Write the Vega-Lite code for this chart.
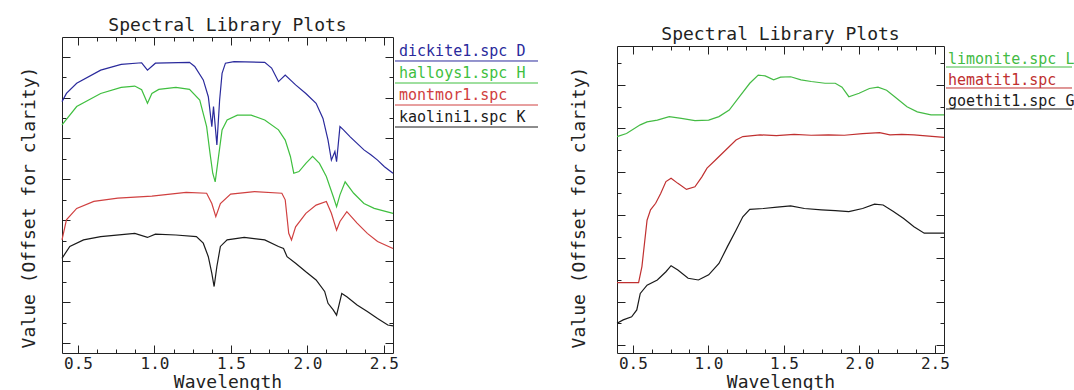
{
  "$schema": "https://vega.github.io/schema/vega-lite/v6.json",
  "background": "white",
  "padding": {"left": 20, "top": 16, "right": 0, "bottom": 0},
  "bounds": "flush",
  "spacing": 2,
  "config": {
    "view": {"stroke": null},
    "font": "DejaVu Sans Mono",
    "axis": {"domainColor": "#222", "tickColor": "#222", "labelColor": "#222", "titleColor": "#222", "grid": false, "labelFont": "DejaVu Sans Mono", "titleFont": "DejaVu Sans Mono", "titleFontWeight": "normal", "labelFontSize": 16, "titleFontSize": 18, "domainWidth": 1, "tickWidth": 1, "labelFlush": false, "labelOverlap": false},
    "title": {"font": "DejaVu Sans Mono", "fontSize": 18, "fontWeight": "normal", "color": "#222", "anchor": "middle"},
    "line": {"strokeWidth": 1.2}
  },
  "datasets": {
    "clays": [
      {"series": "dickite1.spc", "wl": 0.395, "v": 5.90}, {"series": "dickite1.spc", "wl": 0.424, "v": 6.10}, {"series": "dickite1.spc", "wl": 0.491, "v": 6.35}, {"series": "dickite1.spc", "wl": 0.648, "v": 6.67}, {"series": "dickite1.spc", "wl": 0.782, "v": 6.81}, {"series": "dickite1.spc", "wl": 0.916, "v": 6.85}, {"series": "dickite1.spc", "wl": 0.954, "v": 6.67}, {"series": "dickite1.spc", "wl": 1.006, "v": 6.84}, {"series": "dickite1.spc", "wl": 1.229, "v": 6.86}, {"series": "dickite1.spc", "wl": 1.263, "v": 6.76}, {"series": "dickite1.spc", "wl": 1.319, "v": 6.43}, {"series": "dickite1.spc", "wl": 1.352, "v": 6.02}, {"series": "dickite1.spc", "wl": 1.375, "v": 5.29}, {"series": "dickite1.spc", "wl": 1.386, "v": 5.78}, {"series": "dickite1.spc", "wl": 1.408, "v": 4.84}, {"series": "dickite1.spc", "wl": 1.426, "v": 5.94}, {"series": "dickite1.spc", "wl": 1.442, "v": 6.59}, {"series": "dickite1.spc", "wl": 1.464, "v": 6.84}, {"series": "dickite1.spc", "wl": 1.520, "v": 6.88}, {"series": "dickite1.spc", "wl": 1.721, "v": 6.86}, {"series": "dickite1.spc", "wl": 1.766, "v": 6.72}, {"series": "dickite1.spc", "wl": 1.811, "v": 6.39}, {"series": "dickite1.spc", "wl": 1.855, "v": 6.55}, {"series": "dickite1.spc", "wl": 1.923, "v": 6.31}, {"series": "dickite1.spc", "wl": 1.990, "v": 6.10}, {"series": "dickite1.spc", "wl": 2.057, "v": 5.86}, {"series": "dickite1.spc", "wl": 2.102, "v": 5.49}, {"series": "dickite1.spc", "wl": 2.135, "v": 4.96}, {"series": "dickite1.spc", "wl": 2.157, "v": 4.47}, {"series": "dickite1.spc", "wl": 2.180, "v": 4.68}, {"series": "dickite1.spc", "wl": 2.191, "v": 4.43}, {"series": "dickite1.spc", "wl": 2.213, "v": 5.29}, {"series": "dickite1.spc", "wl": 2.236, "v": 5.21}, {"series": "dickite1.spc", "wl": 2.280, "v": 5.04}, {"series": "dickite1.spc", "wl": 2.325, "v": 4.88}, {"series": "dickite1.spc", "wl": 2.370, "v": 4.72}, {"series": "dickite1.spc", "wl": 2.415, "v": 4.60}, {"series": "dickite1.spc", "wl": 2.459, "v": 4.47}, {"series": "dickite1.spc", "wl": 2.504, "v": 4.31}, {"series": "dickite1.spc", "wl": 2.560, "v": 4.15},
      {"series": "halloys1.spc", "wl": 0.395, "v": 5.33}, {"series": "halloys1.spc", "wl": 0.491, "v": 5.78}, {"series": "halloys1.spc", "wl": 0.648, "v": 6.10}, {"series": "halloys1.spc", "wl": 0.782, "v": 6.25}, {"series": "halloys1.spc", "wl": 0.871, "v": 6.28}, {"series": "halloys1.spc", "wl": 0.916, "v": 6.19}, {"series": "halloys1.spc", "wl": 0.954, "v": 5.86}, {"series": "halloys1.spc", "wl": 0.983, "v": 6.10}, {"series": "halloys1.spc", "wl": 1.028, "v": 6.20}, {"series": "halloys1.spc", "wl": 1.140, "v": 6.25}, {"series": "halloys1.spc", "wl": 1.229, "v": 6.20}, {"series": "halloys1.spc", "wl": 1.296, "v": 5.94}, {"series": "halloys1.spc", "wl": 1.341, "v": 5.29}, {"series": "halloys1.spc", "wl": 1.363, "v": 4.64}, {"series": "halloys1.spc", "wl": 1.381, "v": 4.15}, {"series": "halloys1.spc", "wl": 1.397, "v": 3.94}, {"series": "halloys1.spc", "wl": 1.419, "v": 4.56}, {"series": "halloys1.spc", "wl": 1.442, "v": 5.21}, {"series": "halloys1.spc", "wl": 1.475, "v": 5.45}, {"series": "halloys1.spc", "wl": 1.542, "v": 5.57}, {"series": "halloys1.spc", "wl": 1.632, "v": 5.57}, {"series": "halloys1.spc", "wl": 1.721, "v": 5.45}, {"series": "halloys1.spc", "wl": 1.811, "v": 5.21}, {"series": "halloys1.spc", "wl": 1.855, "v": 4.96}, {"series": "halloys1.spc", "wl": 1.889, "v": 4.56}, {"series": "halloys1.spc", "wl": 1.911, "v": 4.15}, {"series": "halloys1.spc", "wl": 1.945, "v": 4.19}, {"series": "halloys1.spc", "wl": 1.990, "v": 4.39}, {"series": "halloys1.spc", "wl": 2.034, "v": 4.56}, {"series": "halloys1.spc", "wl": 2.079, "v": 4.39}, {"series": "halloys1.spc", "wl": 2.124, "v": 4.07}, {"series": "halloys1.spc", "wl": 2.169, "v": 3.58}, {"series": "halloys1.spc", "wl": 2.191, "v": 3.33}, {"series": "halloys1.spc", "wl": 2.213, "v": 3.62}, {"series": "halloys1.spc", "wl": 2.247, "v": 3.94}, {"series": "halloys1.spc", "wl": 2.303, "v": 3.66}, {"series": "halloys1.spc", "wl": 2.370, "v": 3.41}, {"series": "halloys1.spc", "wl": 2.437, "v": 3.29}, {"series": "halloys1.spc", "wl": 2.560, "v": 3.17},
      {"series": "montmor1.spc", "wl": 0.395, "v": 2.52}, {"series": "montmor1.spc", "wl": 0.424, "v": 3.01}, {"series": "montmor1.spc", "wl": 0.491, "v": 3.29}, {"series": "montmor1.spc", "wl": 0.603, "v": 3.46}, {"series": "montmor1.spc", "wl": 0.760, "v": 3.54}, {"series": "montmor1.spc", "wl": 0.983, "v": 3.59}, {"series": "montmor1.spc", "wl": 1.207, "v": 3.68}, {"series": "montmor1.spc", "wl": 1.341, "v": 3.66}, {"series": "montmor1.spc", "wl": 1.375, "v": 3.41}, {"series": "montmor1.spc", "wl": 1.401, "v": 3.09}, {"series": "montmor1.spc", "wl": 1.431, "v": 3.41}, {"series": "montmor1.spc", "wl": 1.498, "v": 3.64}, {"series": "montmor1.spc", "wl": 1.654, "v": 3.70}, {"series": "montmor1.spc", "wl": 1.833, "v": 3.66}, {"series": "montmor1.spc", "wl": 1.855, "v": 3.50}, {"series": "montmor1.spc", "wl": 1.878, "v": 2.68}, {"series": "montmor1.spc", "wl": 1.896, "v": 2.52}, {"series": "montmor1.spc", "wl": 1.923, "v": 2.84}, {"series": "montmor1.spc", "wl": 1.990, "v": 3.17}, {"series": "montmor1.spc", "wl": 2.057, "v": 3.37}, {"series": "montmor1.spc", "wl": 2.124, "v": 3.46}, {"series": "montmor1.spc", "wl": 2.157, "v": 3.17}, {"series": "montmor1.spc", "wl": 2.191, "v": 2.76}, {"series": "montmor1.spc", "wl": 2.213, "v": 2.97}, {"series": "montmor1.spc", "wl": 2.258, "v": 3.21}, {"series": "montmor1.spc", "wl": 2.325, "v": 2.93}, {"series": "montmor1.spc", "wl": 2.392, "v": 2.68}, {"series": "montmor1.spc", "wl": 2.459, "v": 2.48}, {"series": "montmor1.spc", "wl": 2.560, "v": 2.31},
      {"series": "kaolini1.spc", "wl": 0.395, "v": 2.07}, {"series": "kaolini1.spc", "wl": 0.446, "v": 2.36}, {"series": "kaolini1.spc", "wl": 0.536, "v": 2.52}, {"series": "kaolini1.spc", "wl": 0.648, "v": 2.60}, {"series": "kaolini1.spc", "wl": 0.871, "v": 2.68}, {"series": "kaolini1.spc", "wl": 0.954, "v": 2.58}, {"series": "kaolini1.spc", "wl": 1.006, "v": 2.66}, {"series": "kaolini1.spc", "wl": 1.140, "v": 2.64}, {"series": "kaolini1.spc", "wl": 1.274, "v": 2.60}, {"series": "kaolini1.spc", "wl": 1.319, "v": 2.44}, {"series": "kaolini1.spc", "wl": 1.352, "v": 2.11}, {"series": "kaolini1.spc", "wl": 1.375, "v": 1.70}, {"series": "kaolini1.spc", "wl": 1.390, "v": 1.38}, {"series": "kaolini1.spc", "wl": 1.408, "v": 1.87}, {"series": "kaolini1.spc", "wl": 1.431, "v": 2.36}, {"series": "kaolini1.spc", "wl": 1.475, "v": 2.52}, {"series": "kaolini1.spc", "wl": 1.587, "v": 2.58}, {"series": "kaolini1.spc", "wl": 1.721, "v": 2.52}, {"series": "kaolini1.spc", "wl": 1.811, "v": 2.36}, {"series": "kaolini1.spc", "wl": 1.844, "v": 2.31}, {"series": "kaolini1.spc", "wl": 1.867, "v": 2.11}, {"series": "kaolini1.spc", "wl": 1.923, "v": 1.95}, {"series": "kaolini1.spc", "wl": 1.990, "v": 1.74}, {"series": "kaolini1.spc", "wl": 2.057, "v": 1.54}, {"series": "kaolini1.spc", "wl": 2.113, "v": 1.26}, {"series": "kaolini1.spc", "wl": 2.135, "v": 0.97}, {"series": "kaolini1.spc", "wl": 2.169, "v": 0.81}, {"series": "kaolini1.spc", "wl": 2.191, "v": 0.68}, {"series": "kaolini1.spc", "wl": 2.225, "v": 1.21}, {"series": "kaolini1.spc", "wl": 2.258, "v": 1.13}, {"series": "kaolini1.spc", "wl": 2.325, "v": 0.93}, {"series": "kaolini1.spc", "wl": 2.392, "v": 0.77}, {"series": "kaolini1.spc", "wl": 2.459, "v": 0.60}, {"series": "kaolini1.spc", "wl": 2.526, "v": 0.44}, {"series": "kaolini1.spc", "wl": 2.560, "v": 0.42}
    ],
    "oxides": [
      {"series": "limonite.spc", "wl": 0.395, "v": 4.81}, {"series": "limonite.spc", "wl": 0.458, "v": 4.88}, {"series": "limonite.spc", "wl": 0.549, "v": 5.08}, {"series": "limonite.spc", "wl": 0.594, "v": 5.15}, {"series": "limonite.spc", "wl": 0.662, "v": 5.19}, {"series": "limonite.spc", "wl": 0.741, "v": 5.27}, {"series": "limonite.spc", "wl": 0.821, "v": 5.23}, {"series": "limonite.spc", "wl": 0.911, "v": 5.18}, {"series": "limonite.spc", "wl": 1.002, "v": 5.19}, {"series": "limonite.spc", "wl": 1.070, "v": 5.27}, {"series": "limonite.spc", "wl": 1.138, "v": 5.42}, {"series": "limonite.spc", "wl": 1.206, "v": 5.73}, {"series": "limonite.spc", "wl": 1.274, "v": 6.04}, {"series": "limonite.spc", "wl": 1.330, "v": 6.23}, {"series": "limonite.spc", "wl": 1.376, "v": 6.21}, {"series": "limonite.spc", "wl": 1.432, "v": 6.12}, {"series": "limonite.spc", "wl": 1.478, "v": 6.18}, {"series": "limonite.spc", "wl": 1.545, "v": 6.19}, {"series": "limonite.spc", "wl": 1.613, "v": 6.12}, {"series": "limonite.spc", "wl": 1.681, "v": 6.08}, {"series": "limonite.spc", "wl": 1.772, "v": 6.04}, {"series": "limonite.spc", "wl": 1.840, "v": 6.04}, {"series": "limonite.spc", "wl": 1.885, "v": 5.95}, {"series": "limonite.spc", "wl": 1.930, "v": 5.73}, {"series": "limonite.spc", "wl": 1.998, "v": 5.81}, {"series": "limonite.spc", "wl": 2.066, "v": 5.92}, {"series": "limonite.spc", "wl": 2.123, "v": 5.95}, {"series": "limonite.spc", "wl": 2.180, "v": 5.88}, {"series": "limonite.spc", "wl": 2.248, "v": 5.69}, {"series": "limonite.spc", "wl": 2.315, "v": 5.50}, {"series": "limonite.spc", "wl": 2.383, "v": 5.38}, {"series": "limonite.spc", "wl": 2.474, "v": 5.31}, {"series": "limonite.spc", "wl": 2.560, "v": 5.31},
      {"series": "hematit1.spc", "wl": 0.395, "v": 1.44}, {"series": "hematit1.spc", "wl": 0.538, "v": 1.44}, {"series": "hematit1.spc", "wl": 0.560, "v": 1.81}, {"series": "hematit1.spc", "wl": 0.594, "v": 2.88}, {"series": "hematit1.spc", "wl": 0.617, "v": 3.12}, {"series": "hematit1.spc", "wl": 0.651, "v": 3.27}, {"series": "hematit1.spc", "wl": 0.685, "v": 3.50}, {"series": "hematit1.spc", "wl": 0.719, "v": 3.77}, {"series": "hematit1.spc", "wl": 0.753, "v": 3.85}, {"series": "hematit1.spc", "wl": 0.798, "v": 3.73}, {"series": "hematit1.spc", "wl": 0.855, "v": 3.59}, {"series": "hematit1.spc", "wl": 0.911, "v": 3.65}, {"series": "hematit1.spc", "wl": 0.957, "v": 3.88}, {"series": "hematit1.spc", "wl": 0.991, "v": 4.08}, {"series": "hematit1.spc", "wl": 1.047, "v": 4.27}, {"series": "hematit1.spc", "wl": 1.115, "v": 4.50}, {"series": "hematit1.spc", "wl": 1.183, "v": 4.73}, {"series": "hematit1.spc", "wl": 1.228, "v": 4.81}, {"series": "hematit1.spc", "wl": 1.342, "v": 4.85}, {"series": "hematit1.spc", "wl": 1.450, "v": 4.83}, {"series": "hematit1.spc", "wl": 1.568, "v": 4.86}, {"series": "hematit1.spc", "wl": 1.680, "v": 4.84}, {"series": "hematit1.spc", "wl": 1.795, "v": 4.85}, {"series": "hematit1.spc", "wl": 1.900, "v": 4.84}, {"series": "hematit1.spc", "wl": 2.021, "v": 4.88}, {"series": "hematit1.spc", "wl": 2.134, "v": 4.90}, {"series": "hematit1.spc", "wl": 2.202, "v": 4.85}, {"series": "hematit1.spc", "wl": 2.280, "v": 4.86}, {"series": "hematit1.spc", "wl": 2.361, "v": 4.85}, {"series": "hematit1.spc", "wl": 2.560, "v": 4.79},
      {"series": "goethit1.spc", "wl": 0.395, "v": 0.50}, {"series": "goethit1.spc", "wl": 0.436, "v": 0.58}, {"series": "goethit1.spc", "wl": 0.492, "v": 0.65}, {"series": "goethit1.spc", "wl": 0.526, "v": 0.81}, {"series": "goethit1.spc", "wl": 0.549, "v": 1.19}, {"series": "goethit1.spc", "wl": 0.594, "v": 1.38}, {"series": "goethit1.spc", "wl": 0.662, "v": 1.50}, {"series": "goethit1.spc", "wl": 0.719, "v": 1.69}, {"series": "goethit1.spc", "wl": 0.753, "v": 1.83}, {"series": "goethit1.spc", "wl": 0.798, "v": 1.73}, {"series": "goethit1.spc", "wl": 0.866, "v": 1.54}, {"series": "goethit1.spc", "wl": 0.934, "v": 1.50}, {"series": "goethit1.spc", "wl": 1.002, "v": 1.62}, {"series": "goethit1.spc", "wl": 1.070, "v": 1.88}, {"series": "goethit1.spc", "wl": 1.126, "v": 2.27}, {"series": "goethit1.spc", "wl": 1.183, "v": 2.65}, {"series": "goethit1.spc", "wl": 1.228, "v": 2.96}, {"series": "goethit1.spc", "wl": 1.274, "v": 3.13}, {"series": "goethit1.spc", "wl": 1.364, "v": 3.15}, {"series": "goethit1.spc", "wl": 1.455, "v": 3.18}, {"series": "goethit1.spc", "wl": 1.545, "v": 3.21}, {"series": "goethit1.spc", "wl": 1.636, "v": 3.15}, {"series": "goethit1.spc", "wl": 1.749, "v": 3.12}, {"series": "goethit1.spc", "wl": 1.840, "v": 3.10}, {"series": "goethit1.spc", "wl": 1.930, "v": 3.08}, {"series": "goethit1.spc", "wl": 2.021, "v": 3.15}, {"series": "goethit1.spc", "wl": 2.100, "v": 3.25}, {"series": "goethit1.spc", "wl": 2.157, "v": 3.23}, {"series": "goethit1.spc", "wl": 2.225, "v": 3.08}, {"series": "goethit1.spc", "wl": 2.293, "v": 2.92}, {"series": "goethit1.spc", "wl": 2.361, "v": 2.73}, {"series": "goethit1.spc", "wl": 2.429, "v": 2.58}, {"series": "goethit1.spc", "wl": 2.560, "v": 2.58}
    ],
    "legClays": [
      {"series": "dickite1.spc", "label": "dickite1.spc D"},
      {"series": "halloys1.spc", "label": "halloys1.spc H"},
      {"series": "montmor1.spc", "label": "montmor1.spc"},
      {"series": "kaolini1.spc", "label": "kaolini1.spc K"}
    ],
    "legOxides": [
      {"series": "limonite.spc", "label": "limonite.spc L"},
      {"series": "hematit1.spc", "label": "hematit1.spc"},
      {"series": "goethit1.spc", "label": "goethit1.spc G"}
    ]
  },
  "hconcat": [
    {
      "width": 331, "height": 316,
      "title": {"text": "Spectral Library Plots", "offset": 2},
      "data": {"name": "clays"},
      "layer": [
        {"mark": {"type": "line"},
         "encoding": {
           "x": {"field": "wl", "type": "quantitative", "scale": {"domain": [0.395, 2.56], "nice": false, "zero": false}, "axis": {"orient": "bottom", "title": "Wavelength", "values": [0.5, 1, 1.5, 2, 2.5], "format": ".1f", "tickSize": -8, "labelPadding": 10, "titlePadding": 2}},
           "y": {"field": "v", "type": "quantitative", "scale": {"domain": [-0.245, 7.48], "nice": false, "zero": false}, "axis": {"orient": "left", "title": "Value (Offset for clarity)", "values": [0, 1, 2, 3, 4, 5, 6, 7], "labels": false, "tickSize": -8, "titlePadding": 23, "titleY": 170}},
           "color": {"field": "series", "type": "nominal", "scale": {"domain": ["dickite1.spc", "halloys1.spc", "montmor1.spc", "kaolini1.spc", "limonite.spc", "hematit1.spc", "goethit1.spc"], "range": ["#2a2a9c", "#3fbf3f", "#d04040", "#1a1a1a", "#44bb44", "#c03030", "#1a1a1a"]}, "legend": null}
         }},
        {"mark": {"type": "line", "opacity": 0},
         "encoding": {
           "x": {"field": "wl", "type": "quantitative", "scale": {"domain": [0.395, 2.56], "nice": false, "zero": false}, "axis": {"orient": "top", "title": null, "labels": false, "values": [0.5, 1, 1.5, 2, 2.5], "tickSize": -8}},
           "y": {"field": "v", "type": "quantitative", "scale": {"domain": [-0.245, 7.48], "nice": false, "zero": false}, "axis": {"orient": "right", "title": null, "labels": false, "values": [0, 1, 2, 3, 4, 5, 6, 7], "tickSize": -8}},
           "detail": {"field": "series"}
         }},
        {"mark": {"type": "line", "opacity": 0},
         "encoding": {
           "x": {"field": "wl", "type": "quantitative", "scale": {"domain": [0.395, 2.56], "nice": false, "zero": false}, "axis": {"orient": "bottom", "title": null, "labels": false, "domain": false, "values": [0.625, 0.75, 0.875, 1.125, 1.25, 1.375, 1.625, 1.75, 1.875, 2.125, 2.25, 2.375], "tickSize": -4}},
           "y": {"field": "v", "type": "quantitative", "scale": {"domain": [-0.245, 7.48], "nice": false, "zero": false}, "axis": {"orient": "left", "title": null, "labels": false, "domain": false, "values": [0.5, 1.5, 2.5, 3.5, 4.5, 5.5, 6.5], "tickSize": -4}},
           "detail": {"field": "series"}
         }},
        {"mark": {"type": "line", "opacity": 0},
         "encoding": {
           "x": {"field": "wl", "type": "quantitative", "scale": {"domain": [0.395, 2.56], "nice": false, "zero": false}, "axis": {"orient": "top", "title": null, "labels": false, "domain": false, "values": [0.625, 0.75, 0.875, 1.125, 1.25, 1.375, 1.625, 1.75, 1.875, 2.125, 2.25, 2.375], "tickSize": -4}},
           "y": {"field": "v", "type": "quantitative", "scale": {"domain": [-0.245, 7.48], "nice": false, "zero": false}, "axis": {"orient": "right", "title": null, "labels": false, "domain": false, "values": [0.5, 1.5, 2.5, 3.5, 4.5, 5.5, 6.5], "tickSize": -4}},
           "detail": {"field": "series"}
         }}
      ],
      "resolve": {"axis": {"x": "independent", "y": "independent"}}
    },
    {
      "width": 220, "height": 92,
      "data": {"name": "legClays"},
      "layer": [
        {"mark": {"type": "rule", "strokeWidth": 1},
         "encoding": {
           "x": {"datum": 0, "type": "quantitative", "scale": {"domain": [0, 1]}, "axis": null},
           "x2": {"datum": 0.65},
           "y": {"field": "label", "type": "nominal", "sort": null, "scale": {"type": "band", "paddingInner": 0, "paddingOuter": 0.0909}, "axis": null, "bandPosition": 1},
           "color": {"field": "series", "type": "nominal", "scale": {"domain": ["dickite1.spc", "halloys1.spc", "montmor1.spc", "kaolini1.spc", "limonite.spc", "hematit1.spc", "goethit1.spc"], "range": ["#2a2a9c", "#3fbf3f", "#d04040", "#1a1a1a", "#44bb44", "#c03030", "#1a1a1a"]}, "legend": null}
         }},
        {"mark": {"type": "text", "align": "left", "baseline": "middle", "dx": 4, "fontSize": 15, "font": "DejaVu Sans Mono"},
         "encoding": {
           "x": {"datum": 0, "type": "quantitative", "scale": {"domain": [0, 1]}, "axis": null},
           "y": {"field": "label", "type": "nominal", "sort": null, "scale": {"type": "band", "paddingInner": 0, "paddingOuter": 0.0909}, "axis": null, "bandPosition": 0.53},
           "text": {"field": "label"},
           "color": {"field": "series", "type": "nominal", "scale": {"domain": ["dickite1.spc", "halloys1.spc", "montmor1.spc", "kaolini1.spc", "limonite.spc", "hematit1.spc", "goethit1.spc"], "range": ["#2a2a9c", "#3fbf3f", "#d04040", "#1a1a1a", "#44bb44", "#c03030", "#1a1a1a"]}, "legend": null}
         }}
      ]
    },
    {
      "width": 327, "height": 316,
      "title": {"text": "Spectral Library Plots", "offset": -7},
      "data": {"name": "oxides"},
      "layer": [
        {"mark": {"type": "line"},
         "encoding": {
           "x": {"field": "wl", "type": "quantitative", "scale": {"domain": [0.395, 2.56], "nice": false, "zero": false}, "axis": {"orient": "bottom", "title": "Wavelength", "values": [0.5, 1, 1.5, 2, 2.5], "format": ".1f", "tickSize": -8, "labelPadding": 10, "titlePadding": 2}},
           "y": {"field": "v", "type": "quantitative", "scale": {"domain": [-0.185, 6.9], "range": [316, 9], "nice": false, "zero": false}, "axis": {"orient": "left", "title": "Value (Offset for clarity)", "values": [0, 1, 2, 3, 4, 5, 6], "labels": false, "tickSize": -8, "titlePadding": 28, "titleY": 170}},
           "color": {"field": "series", "type": "nominal", "scale": {"domain": ["dickite1.spc", "halloys1.spc", "montmor1.spc", "kaolini1.spc", "limonite.spc", "hematit1.spc", "goethit1.spc"], "range": ["#2a2a9c", "#3fbf3f", "#d04040", "#1a1a1a", "#44bb44", "#c03030", "#1a1a1a"]}, "legend": null}
         }},
        {"mark": {"type": "line", "opacity": 0},
         "encoding": {
           "x": {"field": "wl", "type": "quantitative", "scale": {"domain": [0.395, 2.56], "nice": false, "zero": false}, "axis": {"orient": "top", "offset": -9, "title": null, "labels": false, "values": [0.5, 1, 1.5, 2, 2.5], "tickSize": -8}},
           "y": {"field": "v", "type": "quantitative", "scale": {"domain": [-0.185, 6.9], "range": [316, 9], "nice": false, "zero": false}, "axis": {"orient": "right", "title": null, "labels": false, "values": [0, 1, 2, 3, 4, 5, 6], "tickSize": -8}},
           "detail": {"field": "series"}
         }},
        {"mark": {"type": "line", "opacity": 0},
         "encoding": {
           "x": {"field": "wl", "type": "quantitative", "scale": {"domain": [0.395, 2.56], "nice": false, "zero": false}, "axis": {"orient": "bottom", "title": null, "labels": false, "domain": false, "values": [0.625, 0.75, 0.875, 1.125, 1.25, 1.375, 1.625, 1.75, 1.875, 2.125, 2.25, 2.375], "tickSize": -4}},
           "y": {"field": "v", "type": "quantitative", "scale": {"domain": [-0.185, 6.9], "range": [316, 9], "nice": false, "zero": false}, "axis": {"orient": "left", "title": null, "labels": false, "domain": false, "values": [0.5, 1.5, 2.5, 3.5, 4.5, 5.5, 6.5], "tickSize": -4}},
           "detail": {"field": "series"}
         }},
        {"mark": {"type": "line", "opacity": 0},
         "encoding": {
           "x": {"field": "wl", "type": "quantitative", "scale": {"domain": [0.395, 2.56], "nice": false, "zero": false}, "axis": {"orient": "top", "offset": -9, "title": null, "labels": false, "domain": false, "values": [0.625, 0.75, 0.875, 1.125, 1.25, 1.375, 1.625, 1.75, 1.875, 2.125, 2.25, 2.375], "tickSize": -4}},
           "y": {"field": "v", "type": "quantitative", "scale": {"domain": [-0.185, 6.9], "range": [316, 9], "nice": false, "zero": false}, "axis": {"orient": "right", "title": null, "labels": false, "domain": false, "values": [0.5, 1.5, 2.5, 3.5, 4.5, 5.5, 6.5], "tickSize": -4}},
           "detail": {"field": "series"}
         }}
      ],
      "resolve": {"axis": {"x": "independent", "y": "independent"}}
    },
    {
      "width": 126, "height": 81,
      "data": {"name": "legOxides"},
      "layer": [
        {"mark": {"type": "rule", "strokeWidth": 1},
         "encoding": {
           "x": {"datum": 0, "type": "quantitative", "scale": {"domain": [0, 1]}, "axis": null},
           "x2": {"datum": 1},
           "y": {"field": "label", "type": "nominal", "sort": null, "scale": {"type": "band", "paddingInner": 0, "paddingOuter": 0.4286}, "axis": null, "bandPosition": 1},
           "color": {"field": "series", "type": "nominal", "scale": {"domain": ["dickite1.spc", "halloys1.spc", "montmor1.spc", "kaolini1.spc", "limonite.spc", "hematit1.spc", "goethit1.spc"], "range": ["#2a2a9c", "#3fbf3f", "#d04040", "#1a1a1a", "#44bb44", "#c03030", "#1a1a1a"]}, "legend": null}
         }},
        {"mark": {"type": "text", "align": "left", "baseline": "middle", "dx": 2, "fontSize": 15, "font": "DejaVu Sans Mono"},
         "encoding": {
           "x": {"datum": 0, "type": "quantitative", "scale": {"domain": [0, 1]}, "axis": null},
           "y": {"field": "label", "type": "nominal", "sort": null, "scale": {"type": "band", "paddingInner": 0, "paddingOuter": 0.4286}, "axis": null, "bandPosition": 0.62},
           "text": {"field": "label"},
           "color": {"field": "series", "type": "nominal", "scale": {"domain": ["dickite1.spc", "halloys1.spc", "montmor1.spc", "kaolini1.spc", "limonite.spc", "hematit1.spc", "goethit1.spc"], "range": ["#2a2a9c", "#3fbf3f", "#d04040", "#1a1a1a", "#44bb44", "#c03030", "#1a1a1a"]}, "legend": null}
         }}
      ]
    }
  ]
}
